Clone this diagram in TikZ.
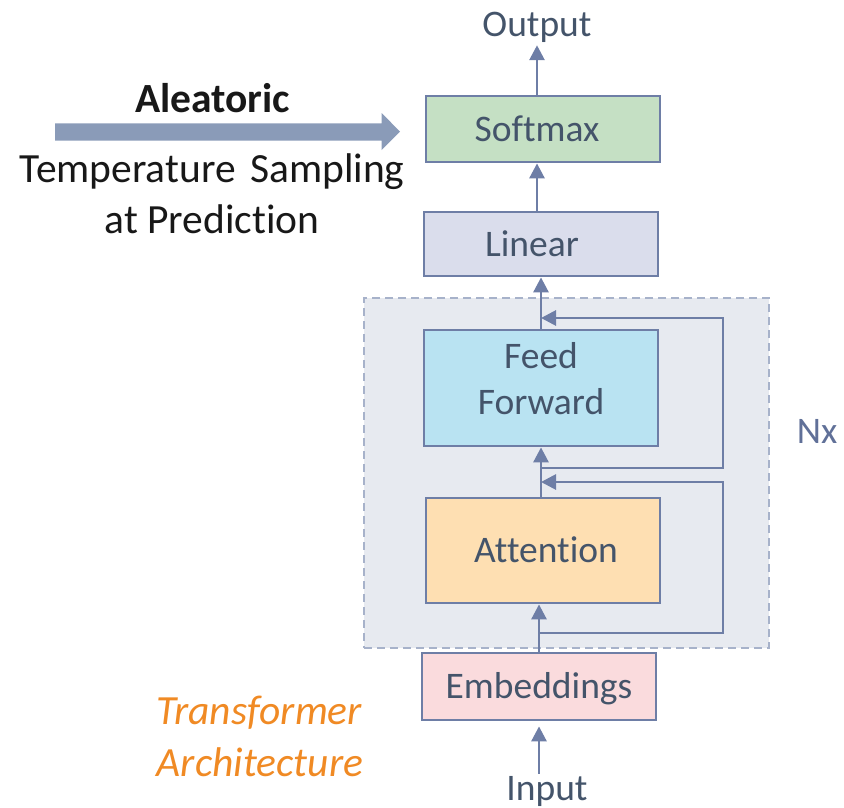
\documentclass[tikz,border=0pt]{standalone}
\usepackage{fontspec}
\setmainfont{Carlito}[Ligatures=NoCommon]
\usetikzlibrary{arrows.meta}

\definecolor{linec}{RGB}{110,126,166}
\definecolor{txtc}{RGB}{68,84,106}
\definecolor{nxc}{RGB}{96,112,152}
\definecolor{softc}{RGB}{197,224,196}
\definecolor{linc}{RGB}{218,221,236}
\definecolor{ffc}{RGB}{185,227,242}
\definecolor{attc}{RGB}{254,223,178}
\definecolor{embc}{RGB}{250,219,221}
\definecolor{blockc}{RGB}{231,234,240}
\definecolor{blockdash}{RGB}{167,178,202}
\definecolor{bigarrowc}{RGB}{138,155,184}
\definecolor{orangec}{RGB}{240,138,36}
\definecolor{inkc}{RGB}{24,24,24}

\begin{document}
\begin{tikzpicture}[x=1pt,y=-1pt,
  boxfont/.style={font=\fontsize{37.5}{46}\selectfont},
  sidefont/.style={font=\fontsize{41.5}{51}\selectfont},
  layer/.style={draw=linec, line width=2.8pt, minimum width=234pt, inner sep=0pt,
    text=txtc, boxfont, text height=24pt, text depth=0pt},
  plaintext/.style={text=txtc, boxfont, inner sep=2pt, anchor=base},
  sidetext/.style={text=inkc, sidefont, inner sep=0pt, anchor=base},
  archtext/.style={text=orangec, sidefont, inner sep=0pt, anchor=base},
  conn/.style={draw=linec, line width=2.8pt},
  tip/.style={-{Triangle[length=15pt,width=15pt]}},
  repeatblock/.style={draw=blockdash, fill=blockc, line width=2pt,
    dash pattern=on 8pt off 5pt, minimum width=405pt, minimum height=350pt, inner sep=0pt}
]
\useasboundingbox (0,0) rectangle (844,808);

% repeated encoder block
\node[repeatblock] (blk) at (566.5,473) {};
\node[text=nxc, boxfont, inner sep=0pt, anchor=base] (nx) at (817,443) {Nx};

% layers
\node[layer, fill=softc, minimum height=66pt] (soft) at (543,129) {Softmax\hspace*{12pt}};
\node[layer, fill=linc, minimum height=64pt] (lin) at (541,244) {Linear\hspace*{18pt}};
\node[layer, fill=ffc, minimum height=116pt,
  label={[text=txtc, boxfont, align=center, inner sep=0pt, yshift=9pt]center:Feed\\Forward}] (ff) at (541,388) {};
\node[layer, fill=attc, minimum height=105pt] (att) at (543,550.5) {\hspace*{6pt}Attention};
\node[layer, fill=embc, minimum height=67pt] (emb) at (539,686.5) {Embeddings};

% input and output
\node[plaintext] (out) at (537,37) {Output};
\node[plaintext] (inp) at (547,800) {Input};

% main data path
\draw[conn,tip] (soft.north -| out.south) -- (out.south);
\draw[conn,tip] (lin.north -| out.south) -- (soft.south -| out.south);
\draw[conn,tip] (ff.north) -- (lin.south);
\draw[conn,tip] (att.north -| ff.south) -- (ff.south);
\draw[conn,tip] (emb.north) -- (emb.north |- att.south);
\draw[conn,tip,shorten >=5pt] (inp.north -| emb.south) -- (emb.south);

% residual connections
\coordinate (ja) at (723,633);
\coordinate (ra) at (723,482);
\coordinate (jb) at (723,468);
\coordinate (rb) at (723,318);
\draw[conn,tip] (emb.north |- ja) -- (ja) -- (ra) -- (ff.south |- ra);
\draw[conn,tip] (ff.north |- jb) -- (jb) -- (rb) -- (ff.north |- rb);

% sampling annotation
\fill[bigarrowc] (55,123.3) -- (381.7,123.3) -- (381.7,113) -- (400,131.7)
  -- (381.7,150) -- (381.7,140.7) -- (55,140.7) -- cycle;
\node[sidetext, font=\fontsize{41.5}{51}\selectfont\bfseries] (alea) at (212.5,112) {Aleatoric};
\node[sidetext] (temp) at (212,182) {Temperature\hspace{0.35em}Sampling};
\node[sidetext] (pred) at (212,233) {at Prediction};

% caption
\node[archtext, font=\fontsize{41.5}{51}\selectfont\itshape] (cap1) at (259,724) {Transformer};
\node[archtext, font=\fontsize{41.5}{51}\selectfont\itshape] (cap2) at (260,776) {Architecture};
\end{tikzpicture}
\end{document}
